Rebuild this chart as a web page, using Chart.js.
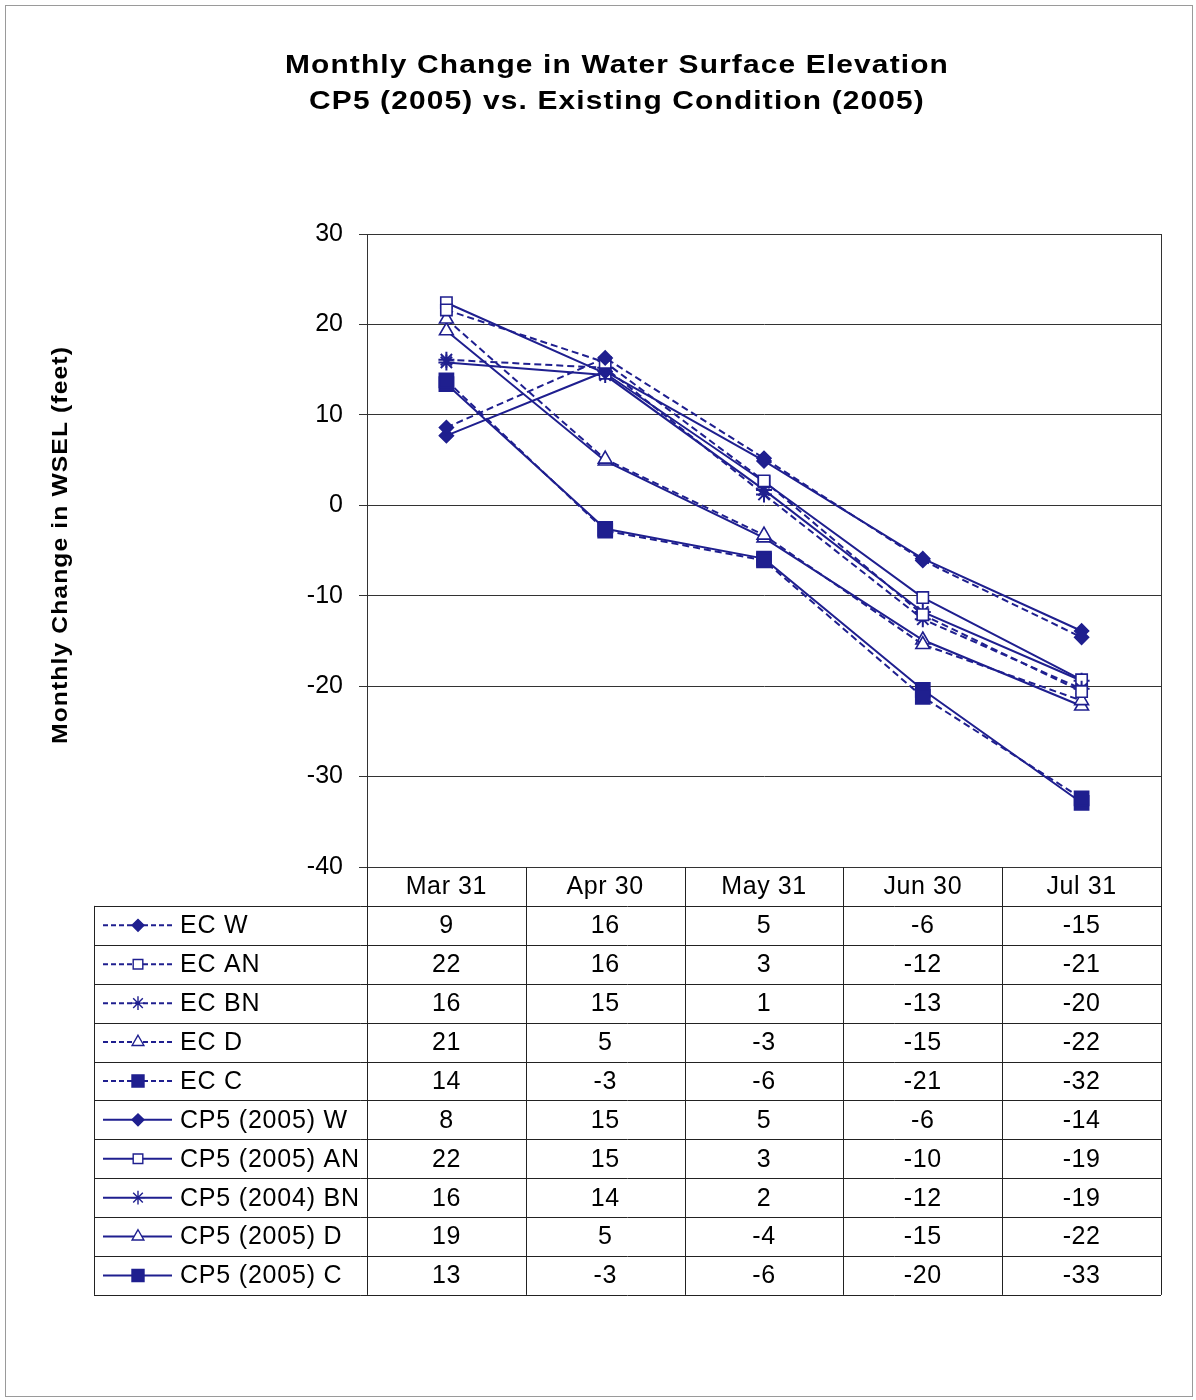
<!DOCTYPE html>
<html>
<head>
<meta charset="utf-8">
<script src="https://cdn.jsdelivr.net/npm/chart.js@4.4.1/dist/chart.umd.min.js"></script>
<style>
  body { margin: 0; background: #fff; }
  #wrap { width: 1196px; height: 1400px; }
</style>
</head>
<body>
<div id="wrap"><canvas id="wselChart" width="1196" height="1400"></canvas></div>
<script>
const months = ['Mar 31', 'Apr 30', 'May 31', 'Jun 30', 'Jul 31'];
const titleLines = ['Monthly Change in Water Surface Elevation', 'CP5 (2005) vs. Existing Condition (2005)'];
const yTitle = 'Monthly Change in WSEL (feet)';
const yTicks = [-40, -30, -20, -10, 0, 10, 20, 30];

// values as plotted (table shows them rounded)
const ecW   = [8.6, 16.3, 5.2, -6.1, -14.6];
const ecAN  = [21.6, 15.8, 2.7, -12.1, -20.6];
const ecBN  = [16.1, 15.2, 1.2, -12.6, -20.3];
const ecD   = [20.6, 5.1, -3.3, -15.4, -21.6];
const ecC   = [13.8, -2.8, -6.1, -21.2, -32.4];
const cpW   = [7.7, 14.8, 4.9, -5.9, -13.9];
const cpAN  = [22.4, 14.6, 2.6, -10.2, -19.3];
const cpBN  = [15.8, 14.4, 1.7, -11.8, -19.4];
const cpD   = [19.3, 4.9, -3.6, -14.9, -22.2];
const cpC   = [13.4, -2.6, -5.9, -20.4, -32.9];

const FONT = "'Liberation Sans', Arial, sans-serif";
const navy = '#1f1f8f';

Chart.defaults.font.family = FONT;
Chart.defaults.color = '#000';

function makeSet(label, data, style, filled, dashed, radius) {
  return {
    label: label,
    data: data,
    borderColor: navy,
    borderWidth: 2,
    borderDash: dashed ? [7, 4] : [],
    pointStyle: style,
    pointRadius: radius,
    pointBorderColor: navy,
    pointBorderWidth: style === 'star' ? 2 : 1.6,
    pointBackgroundColor: filled ? navy : '#fff',
    tension: 0
  };
}

// stretched text, the original chart is a bit wider than plain Arial
function wideText(ctx, text, x, y, sx) {
  ctx.save();
  ctx.translate(x, y);
  ctx.scale(sx, 1);
  ctx.fillText(text, 0, 0);
  ctx.restore();
}

const frame = {
  id: 'frame',
  beforeDraw(chart) {
    const ctx = chart.ctx;
    ctx.save();
    ctx.fillStyle = '#fff';
    ctx.fillRect(0, 0, chart.width, chart.height);
    ctx.strokeStyle = '#9a9a9a';
    ctx.lineWidth = 1;
    ctx.strokeRect(5.5, 5.5, 1187, 1391);
    ctx.fillStyle = '#000';
    ctx.font = 'bold 26px ' + FONT;
    ctx.letterSpacing = '1px';
    ctx.textAlign = 'center';
    ctx.textBaseline = 'middle';
    wideText(ctx, titleLines[0], 617, 66, 1.15);
    wideText(ctx, titleLines[1], 617, 102, 1.15);
    // y axis title
    ctx.font = 'bold 22px ' + FONT;
    ctx.translate(61, 545);
    ctx.rotate(-Math.PI / 2);
    wideText(ctx, yTitle, 0, 0, 1.12);
    ctx.restore();
  },
  beforeDatasetsDraw(chart) {
    const {ctx, chartArea: a} = chart;
    ctx.save();
    ctx.strokeStyle = '#333';
    ctx.lineWidth = 1;
    ctx.strokeRect(Math.round(a.left) + 0.5, Math.round(a.top) + 0.5, Math.round(a.right - a.left), Math.round(a.bottom - a.top));
    ctx.restore();
  },
  afterDraw(chart) {
    const {ctx, chartArea: a, scales: {x}} = chart;
    const sets = chart.data.datasets;
    const rowH = 38.9;
    const tableLeft = 94;
    const top = a.bottom;
    const bottom = top + rowH * (sets.length + 1);
    ctx.save();
    ctx.strokeStyle = '#222';
    ctx.lineWidth = 1;
    ctx.beginPath();
    for (let r = 1; r <= sets.length + 1; r++) {
      const yy = Math.round(top + rowH * r) + 0.5;
      ctx.moveTo(tableLeft, yy);
      ctx.lineTo(a.right, yy);
    }
    ctx.moveTo(tableLeft + 0.5, top + rowH);
    ctx.lineTo(tableLeft + 0.5, bottom);
    const edges = [a.left];
    for (let i = 1; i < months.length; i++) {
      edges.push((x.getPixelForValue(i - 1) + x.getPixelForValue(i)) / 2);
    }
    edges.push(a.right);
    edges.forEach(e => {
      const xx = Math.round(e) + 0.5;
      ctx.moveTo(xx, top);
      ctx.lineTo(xx, bottom);
    });
    ctx.stroke();

    ctx.fillStyle = '#000';
    ctx.font = '25px ' + FONT;
    ctx.letterSpacing = '0.6px';
    ctx.textBaseline = 'middle';
    ctx.textAlign = 'center';
    chart.data.labels.forEach((lab, i) => {
      ctx.fillText(lab, x.getPixelForValue(i), top + rowH / 2 + 1);
    });

    sets.forEach((ds, r) => {
      const cy = top + rowH * (r + 1.5);
      ctx.strokeStyle = ds.borderColor;
      ctx.lineWidth = 2;
      ctx.setLineDash(ds.borderDash.length ? [5, 3] : []);
      ctx.beginPath();
      ctx.moveTo(103, cy);
      ctx.lineTo(172, cy);
      ctx.stroke();
      ctx.setLineDash([]);
      ctx.fillStyle = ds.pointBackgroundColor;
      ctx.strokeStyle = ds.pointBorderColor;
      ctx.lineWidth = 1.4;
      Chart.helpers.drawPoint(ctx, {
        pointStyle: ds.pointStyle,
        radius: ds.pointRadius * 0.85,
        rotation: 0,
        borderWidth: 1.4
      }, 138, cy);

      ctx.fillStyle = '#000';
      ctx.textAlign = 'left';
      ctx.letterSpacing = '0.8px';
      ctx.fillText(ds.label, 180, cy + 1);
      ctx.textAlign = 'center';
      ctx.letterSpacing = '0.6px';
      ds.data.forEach((v, i) => {
        ctx.fillText(String(Math.round(v)), x.getPixelForValue(i), cy + 1);
      });
    });
    ctx.restore();
  }
};

new Chart(document.getElementById('wselChart'), {
  type: 'line',
  data: {
    labels: months,
    datasets: [
      makeSet('EC W', ecW, 'rectRot', true, true, 7),
      makeSet('EC AN', ecAN, 'rect', false, true, 8),
      makeSet('EC BN', ecBN, 'star', false, true, 8),
      makeSet('EC D', ecD, 'triangle', false, true, 8),
      makeSet('EC C', ecC, 'rect', true, true, 10),
      makeSet('CP5 (2005) W', cpW, 'rectRot', true, false, 7),
      makeSet('CP5 (2005) AN', cpAN, 'rect', false, false, 8),
      makeSet('CP5 (2004) BN', cpBN, 'star', false, false, 8),
      makeSet('CP5 (2005) D', cpD, 'triangle', false, false, 8),
      makeSet('CP5 (2005) C', cpC, 'rect', true, false, 10)
    ]
  },
  options: {
    responsive: false,
    animation: false,
    devicePixelRatio: 1,
    layout: { padding: { left: 6, top: 234, right: 35, bottom: 533 } },
    plugins: {
      legend: { display: false },
      title: { display: false },
      tooltip: { enabled: false }
    },
    scales: {
      x: { display: false, offset: true },
      y: {
        min: yTicks[0],
        max: yTicks[yTicks.length - 1],
        afterBuildTicks(scale) { scale.ticks = yTicks.map(v => ({ value: v })); },
        afterFit(scale) { scale.width = 361; },
        ticks: { color: '#000', font: { size: 25 }, padding: 16 },
        grid: { color: '#333', lineWidth: 1, tickLength: 8 },
        border: { color: '#333' },
        title: { display: false }
      }
    }
  },
  plugins: [frame]
});
</script>
</body>
</html>
